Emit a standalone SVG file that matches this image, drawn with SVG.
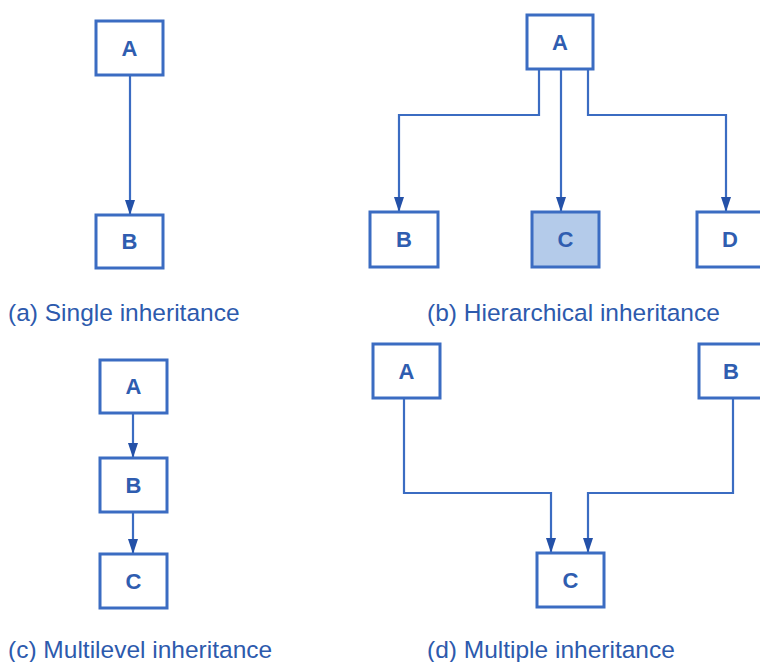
<svg xmlns="http://www.w3.org/2000/svg" width="760" height="662" viewBox="0 0 760 662">
<defs>
<marker id="arr" viewBox="0 0 15 10" refX="15" refY="5" markerWidth="15" markerHeight="10" markerUnits="userSpaceOnUse" orient="auto">
<path d="M0,0 L15,5 L0,10 z" fill="#2451a8"/>
</marker>
<style>
.box{fill:#ffffff;stroke:#3b6cc2;stroke-width:3}
.hl{fill:#b4cbea}
.lbl{font-family:"Liberation Sans",Arial,sans-serif;font-weight:bold;font-size:22px;fill:#2f5db0;text-anchor:middle}
.cap{font-family:"Liberation Sans",Arial,sans-serif;font-size:24.5px;fill:#2d5aad}
.con{fill:none;stroke:#3b6cc2;stroke-width:2.2;marker-end:url(#arr)}
</style>
</defs>
<rect width="760" height="662" fill="#ffffff"/>
<g id="connectors">
<path class="con" d="M130,75 V215"/>
<path class="con" d="M539,69 V115 H399 V212"/>
<path class="con" d="M561,69 V212"/>
<path class="con" d="M588,69 V115 H726 V212"/>
<path class="con" d="M133,413 V458"/>
<path class="con" d="M133,512 V554"/>
<path class="con" d="M404,398 V493 H551 V553"/>
<path class="con" d="M733,398 V493 H588 V553"/>
</g>
<g id="a-A"><rect class="box" x="96" y="21" width="67" height="54"/><text class="lbl" x="129.5" y="56">A</text></g>
<g id="a-B"><rect class="box" x="96" y="215" width="67" height="53"/><text class="lbl" x="129.5" y="249">B</text></g>
<g id="b-A"><rect class="box" x="527" y="15" width="66" height="54"/><text class="lbl" x="560" y="50">A</text></g>
<g id="b-B"><rect class="box" x="370" y="212" width="68" height="55"/><text class="lbl" x="404" y="247">B</text></g>
<g id="b-C"><rect class="box hl" x="532" y="212" width="67" height="55"/><text class="lbl" x="565.5" y="247">C</text></g>
<g id="b-D"><rect class="box" x="697" y="212" width="66" height="55"/><text class="lbl" x="730" y="247">D</text></g>
<g id="c-A"><rect class="box" x="100" y="360" width="67" height="53"/><text class="lbl" x="133.5" y="394">A</text></g>
<g id="c-B"><rect class="box" x="100" y="458" width="67" height="54"/><text class="lbl" x="133.5" y="493">B</text></g>
<g id="c-C"><rect class="box" x="100" y="554" width="67" height="54"/><text class="lbl" x="133.5" y="589">C</text></g>
<g id="d-A"><rect class="box" x="373" y="344" width="67" height="54"/><text class="lbl" x="406.5" y="379">A</text></g>
<g id="d-B"><rect class="box" x="699" y="344" width="64" height="54"/><text class="lbl" x="731" y="379">B</text></g>
<g id="d-C"><rect class="box" x="537" y="553" width="67" height="54"/><text class="lbl" x="570.5" y="588">C</text></g>
<text class="cap" x="8" y="321">(a) Single inheritance</text>
<text class="cap" x="427" y="321">(b) Hierarchical inheritance</text>
<text class="cap" x="8" y="658">(c) Multilevel inheritance</text>
<text class="cap" x="427" y="658">(d) Multiple inheritance</text>
</svg>
